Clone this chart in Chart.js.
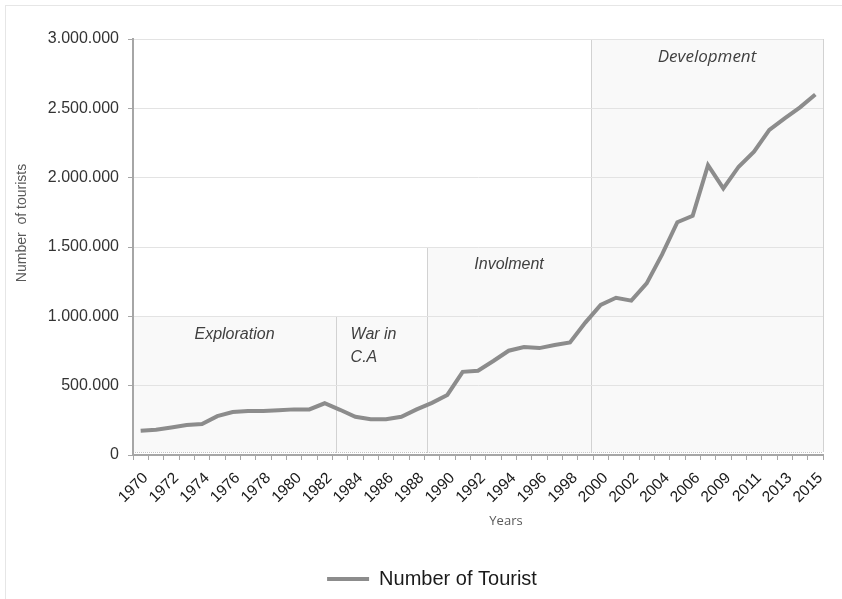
<!DOCTYPE html>
<html>
<head>
<meta charset="utf-8">
<title>Number of Tourist</title>
<script src="https://cdn.jsdelivr.net/npm/chart.js@4.4.1/dist/chart.umd.min.js"></script>
<style>
  html, body { margin: 0; padding: 0; background: #fff; }
  #wrap { width: 842px; height: 599px; }
</style>
</head>
<body>
<div id="wrap"><canvas id="touristChart" width="842" height="599"></canvas></div>
<script>
// Categories (2007 is not in the source series)
const years = [
    '1970', '1971', '1972', '1973', '1974', '1975', '1976', '1977', '1978', '1979',
    '1980', '1981', '1982', '1983', '1984', '1985', '1986', '1987', '1988', '1989',
    '1990', '1991', '1992', '1993', '1994', '1995', '1996', '1997', '1998', '1999',
    '2000', '2001', '2002', '2003', '2004', '2005', '2006', '2008', '2009', '2010',
    '2011', '2012', '2013', '2014', '2015'
];

// Number of tourists per year
const tourists = [
    175000, 182000, 198000, 216000, 223000, 280000, 310000, 317000, 317000, 322000,
    329000, 329000, 373000, 326000, 276000, 258000, 258000, 276000, 329000, 376000,
    433000, 600000, 608000, 678000, 752000, 779000, 771000, 793000, 812000, 955000,
    1082000, 1134000, 1113000, 1238000, 1445000, 1679000, 1725000, 2091000, 1923000, 2079000,
    2187000, 2344000, 2428000, 2507000, 2600000
];

// Y axis tick values and labels
const yTickValues = [0, 500000, 1000000, 1500000, 2000000, 2500000, 3000000];
const yTickLabels = ['0', '500.000', '1.000.000', '1.500.000', '2.000.000', '2.500.000', '3.000.000'];

// Phases: names, span in category units, and top value of the box
const phaseNames = [['Exploration'], ['War in', 'C.A'], ['Involment'], ['Development']];
const phaseFrom = [-0.5, 12.74, 18.68, 29.37];
const phaseTo = [12.74, 18.68, 29.37, 44.5];
const phaseTop = [1000000, 1000000, 1500000, 3000000];

const FONT = "'Liberation Sans', Arial, sans-serif";

// Background, outer frame and phase boxes, drawn under the grid
const phaseBoxes = {
    id: 'phaseBoxes',
    beforeDraw(chart) {
        const {ctx, scales: {x, y}} = chart;
        ctx.save();
        ctx.fillStyle = '#ffffff';
        ctx.fillRect(0, 0, chart.width, chart.height);
        ctx.strokeStyle = '#e6e6e6';
        ctx.lineWidth = 1;
        ctx.strokeRect(5.5, 5.5, chart.width + 10, chart.height + 10);

        phaseNames.forEach((name, i) => {
            const left = x.getPixelForValue(phaseFrom[i]);
            const right = x.getPixelForValue(phaseTo[i]);
            const top = y.getPixelForValue(phaseTop[i]);
            const bottom = y.getPixelForValue(0) - 3;
            ctx.fillStyle = '#f9f9f9';
            ctx.fillRect(left, top, right - left, bottom - top);
            ctx.strokeStyle = '#d2d2d2';
            ctx.lineWidth = 1;
            ctx.setLineDash([]);
            ctx.beginPath();
            ctx.moveTo(Math.round(left) + 0.5, top);
            ctx.lineTo(Math.round(left) + 0.5, bottom);
            ctx.moveTo(Math.round(right) + 0.5, top);
            ctx.lineTo(Math.round(right) + 0.5, bottom);
            ctx.stroke();
            ctx.strokeStyle = '#c4c4c4';
            ctx.setLineDash([1, 1]);
            ctx.beginPath();
            ctx.moveTo(left, Math.round(top) + 0.5);
            ctx.lineTo(right, Math.round(top) + 0.5);
            ctx.moveTo(left, Math.round(bottom) + 0.5);
            ctx.lineTo(right, Math.round(bottom) + 0.5);
            ctx.stroke();
        });
        ctx.restore();
    },
    afterDraw(chart) {
        const {ctx, chartArea, scales: {x, y}} = chart;
        ctx.save();
        ctx.fillStyle = '#404040';
        ctx.textBaseline = 'middle';

        // phase names
        phaseNames.forEach((lines, i) => {
            const left = x.getPixelForValue(phaseFrom[i]);
            const right = x.getPixelForValue(phaseTo[i]);
            const top = y.getPixelForValue(phaseTop[i]);
            ctx.font = i === 3 ? "italic 17px 'Open Sans', sans-serif" : 'italic 16px ' + FONT;
            const blockWidth = Math.max(...lines.map(l => ctx.measureText(l).width));
            const startX = (left + right) / 2 - blockWidth / 2;
            ctx.textAlign = 'left';
            lines.forEach((line, j) => {
                ctx.fillText(line, lines.length > 1 ? startX - 8 : startX, top + 18 + j * 23);
            });
        });

        // axis titles
        ctx.fillStyle = '#595959';
        ctx.textAlign = 'center';
        ctx.font = "13px 'Open Sans', sans-serif";
        ctx.fillText('Years', (chartArea.left + chartArea.right) / 2 + 28, chartArea.bottom + 66);

        ctx.font = '14px ' + FONT;
        ctx.translate(22, (chartArea.top + chartArea.bottom) / 2 - 24);
        ctx.rotate(-Math.PI / 2);
        ctx.fillText('Number  of tourists', 0, 0);
        ctx.restore();
    }
};

const ctx = document.getElementById('touristChart').getContext('2d');

const myChart = new Chart(ctx, {
    type: 'line',
    data: {
        labels: years,
        datasets: [{
            label: 'Number of Tourist',
            data: tourists,
            borderColor: '#8c8c8c',
            backgroundColor: '#8c8c8c',
            borderWidth: 4,
            pointRadius: 0,
            tension: 0,
            fill: false
        }]
    },
    options: {
        responsive: false,
        devicePixelRatio: 1,
        animation: false,
        layout: {
            padding: { top: 39, right: 19, bottom: 0, left: 41 }
        },
        plugins: {
            legend: {
                position: 'bottom',
                labels: {
                    usePointStyle: true,
                    pointStyle: 'line',
                    pointStyleWidth: 42,
                    padding: 6,
                    color: '#1a1a1a',
                    font: { family: FONT, size: 20 }
                }
            },
            tooltip: { enabled: false }
        },
        scales: {
            x: {
                offset: true,
                grid: {
                    display: true,
                    offset: true,
                    drawOnChartArea: false,
                    tickLength: 5,
                    tickColor: '#a6a6a6'
                },
                border: { color: '#a6a6a6', width: 2 },
                ticks: {
                    autoSkip: false,
                    minRotation: 45,
                    maxRotation: 45,
                    padding: 9,
                    labelOffset: 5,
                    color: '#1a1a1a',
                    font: { family: FONT, size: 15.5 },
                    callback: function (value, index) {
                        return index % 2 === 0 ? years[index] : '';
                    }
                },
                afterFit: scale => { scale.height = 108; }
            },
            y: {
                min: 0,
                max: 3000000,
                grid: {
                    color: '#e3e3e3',
                    tickColor: '#a6a6a6',
                    tickLength: 5
                },
                border: { color: '#a6a6a6', width: 2 },
                ticks: {
                    stepSize: 500000,
                    padding: 9,
                    color: '#333333',
                    font: { family: FONT, size: 16 },
                    callback: value => {
                        const i = yTickValues.indexOf(value);
                        return i >= 0 ? yTickLabels[i] : '';
                    }
                },
                afterFit: scale => { scale.width = 92; }
            }
        }
    },
    plugins: [phaseBoxes]
});
</script>
</body>
</html>
